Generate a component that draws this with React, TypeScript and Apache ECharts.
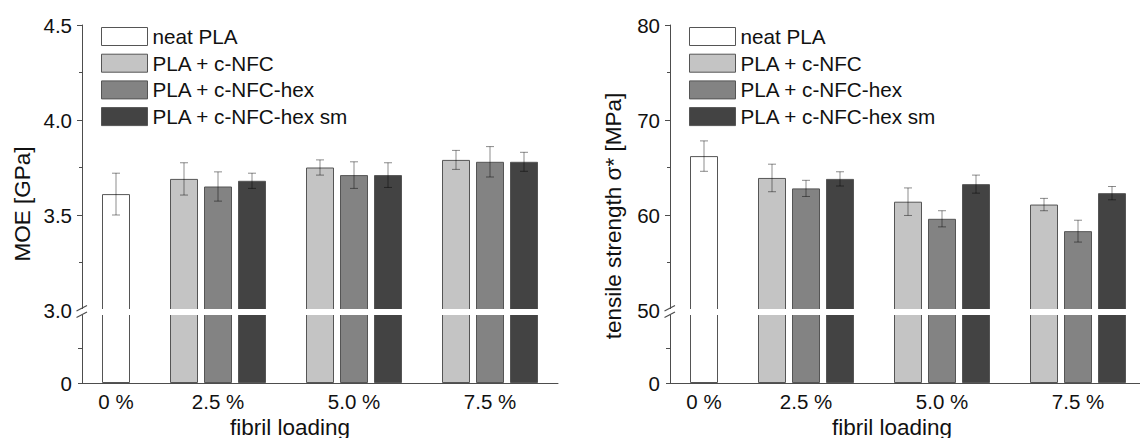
import React, { useEffect, useRef } from 'react';
import * as echarts from 'echarts';

// ---------------- data ----------------
const loadings = ['0 %', '2.5 %', '5.0 %', '7.5 %'];
const seriesNames = ['neat PLA', 'PLA + c-NFC', 'PLA + c-NFC-hex', 'PLA + c-NFC-hex sm'];
const fills = ['#ffffff', '#c4c4c4', '#838383', '#434343'];

// MOE [GPa] (index = fibril loading)
const moeNeat = [3.61, null, null, null];
const moeCNFC = [null, 3.69, 3.75, 3.79];
const moeHex = [null, 3.65, 3.71, 3.78];
const moeHexSm = [null, 3.68, 3.71, 3.78];
const moeNeatErr = [0.11, null, null, null];
const moeCNFCErr = [null, 0.085, 0.04, 0.05];
const moeHexErr = [null, 0.077, 0.07, 0.08];
const moeHexSmErr = [null, 0.04, 0.065, 0.05];

// tensile strength [MPa]
const tsNeat = [66.2, null, null, null];
const tsCNFC = [null, 63.9, 61.4, 61.1];
const tsHex = [null, 62.8, 59.6, 58.3];
const tsHexSm = [null, 63.8, 63.25, 62.3];
const tsNeatErr = [1.6, null, null, null];
const tsCNFCErr = [null, 1.45, 1.45, 0.65];
const tsHexErr = [null, 0.85, 0.85, 1.15];
const tsHexSmErr = [null, 0.75, 0.95, 0.7];

// axis ranges (upper part above the break, lower part below it)
const moeUpper = { min: 3.0, max: 4.5, interval: 0.5, ticks: [3.5, 4.0, 4.5] };
const moeLower = { min: 0, max: 3.0, ticks: [0, 1.5], labels: [0] };
const tsUpper = { min: 50, max: 80, interval: 10, ticks: [60, 70, 80] };
const tsLower = { min: 0, max: 50, ticks: [0, 25], labels: [0] };

// ---------------- layout helpers ----------------
const FONT = 'Liberation Sans, Arial, Helvetica, sans-serif';
const TEXT = '#111111';
const AXIS = '#4d4d4d';
const ERR = 'rgba(0,0,0,0.45)';

// slot positions on the x value axis (0..14)
const slotX = (i: number, s: number) => (i === 0 ? 1 : 4 * i + s - 2);
const labelX = (i: number) => (i === 0 ? 1 : 4 * i);

const panels = [
  {
    left: 82,
    values: [moeNeat, moeCNFC, moeHex, moeHexSm],
    errs: [moeNeatErr, moeCNFCErr, moeHexErr, moeHexSmErr],
    upper: moeUpper,
    lower: moeLower,
    fmt: (v: number) => v.toFixed(1),
    yName: 'MOE [GPa]',
    yNameX: 22,
    yNameY: 204,
    xNameX: 290,
    legendLeft: 101,
  },
  {
    left: 670,
    values: [tsNeat, tsCNFC, tsHex, tsHexSm],
    errs: [tsNeatErr, tsCNFCErr, tsHexErr, tsHexSmErr],
    upper: tsUpper,
    lower: tsLower,
    fmt: (v: number) => String(v),
    yName: 'tensile strength σ* [MPa]',
    yNameX: 613,
    yNameY: 216,
    xNameX: 892,
    legendLeft: 689,
  },
];

const UP_TOP = 25;
const UP_BOTTOM = 310;
const LO_TOP = 314;
const LO_BOTTOM = 383;
const PLOT_W = 476;

function buildOption() {
  const grid: any[] = [];
  const xAxis: any[] = [];
  const yAxis: any[] = [];
  const series: any[] = [];
  const legend: any[] = [];
  const graphic: any[] = [];

  const labelMap: Record<number, string> = {};
  loadings.forEach((l, i) => (labelMap[labelX(i)] = l));

  panels.forEach((p, pi) => {
    const gU = pi * 2;
    const gL = pi * 2 + 1;
    grid.push({ left: p.left, top: UP_TOP, width: PLOT_W, height: UP_BOTTOM - UP_TOP, outerBoundsMode: 'none' });
    grid.push({ left: p.left, top: LO_TOP, width: PLOT_W, height: LO_BOTTOM - LO_TOP, outerBoundsMode: 'none' });

    xAxis.push({ type: 'value', gridIndex: gU, min: 0, max: 14, show: false, splitLine: { show: false } });
    xAxis.push({
      type: 'value',
      gridIndex: gL,
      min: 0,
      max: 14,
      interval: 1,
      axisLine: { show: true, onZero: false, lineStyle: { color: AXIS, width: 1 } },
      axisTick: { show: false },
      splitLine: { show: false },
      axisLabel: {
        customValues: loadings.map((_, i) => labelX(i)),
        formatter: (v: number) => labelMap[v] ?? '',
        fontSize: 20.5,
        fontFamily: FONT,
        color: TEXT,
        margin: 8,
        showMinLabel: true,
        showMaxLabel: true,
      },
    });

    yAxis.push({
      type: 'value',
      gridIndex: gU,
      min: p.upper.min,
      max: p.upper.max,
      interval: p.upper.interval,
      axisLine: { show: true, onZero: false, lineStyle: { color: AXIS, width: 1 } },
      axisTick: { show: true, length: 5, customValues: p.upper.ticks, lineStyle: { color: AXIS } },
      minorTick: { show: true, splitNumber: 2, length: 3, lineStyle: { color: AXIS } },
      splitLine: { show: false },
      axisLabel: { formatter: p.fmt, fontSize: 20.5, fontFamily: FONT, color: TEXT, margin: 10 },
    });
    yAxis.push({
      type: 'value',
      gridIndex: gL,
      min: p.lower.min,
      max: p.lower.max,
      interval: p.lower.ticks[1],
      axisLine: { show: true, onZero: false, lineStyle: { color: AXIS, width: 1 } },
      axisTick: { show: true, length: 4, customValues: p.lower.ticks, lineStyle: { color: AXIS } },
      splitLine: { show: false },
      axisLabel: {
        customValues: p.lower.labels,
        formatter: (v: number) => (v === 0 ? '0' : ''),
        fontSize: 20.5,
        fontFamily: FONT,
        color: TEXT,
        margin: 10,
      },
    });

    // bars in both parts of the broken axis
    [gU, gL].forEach((g) => {
      p.values.forEach((vals, s) => {
        const data = vals
          .map((v, i) => (v == null ? null : [slotX(i, s), v]))
          .filter((d) => d !== null);
        series.push({
          type: 'bar',
          name: seriesNames[s],
          xAxisIndex: g,
          yAxisIndex: g,
          barWidth: 28,
          barGap: '-100%',
          clip: true,
          itemStyle: { color: fills[s], borderColor: '#555555', borderWidth: 1 },
          data,
        });
      });
    });

    // error bars (upper part)
    const errData: number[][] = [];
    p.values.forEach((vals, s) => {
      vals.forEach((v, i) => {
        const e = p.errs[s][i];
        if (v != null && e != null) errData.push([slotX(i, s), v - e, v + e]);
      });
    });
    series.push({
      type: 'custom',
      xAxisIndex: gU,
      yAxisIndex: gU,
      z: 5,
      encode: { x: 0, y: [1, 2] },
      data: errData,
      renderItem: (_params: any, api: any) => {
        const x = api.value(0);
        const top = api.coord([x, api.value(2)]);
        const bot = api.coord([x, api.value(1)]);
        const w = 4;
        const style = { stroke: ERR, lineWidth: 1 };
        return {
          type: 'group',
          children: [
            { type: 'line', shape: { x1: top[0], y1: top[1], x2: bot[0], y2: bot[1] }, style },
            { type: 'line', shape: { x1: top[0] - w, y1: top[1], x2: top[0] + w, y2: top[1] }, style },
            { type: 'line', shape: { x1: bot[0] - w, y1: bot[1], x2: bot[0] + w, y2: bot[1] }, style },
          ],
        };
      },
    });

    legend.push({
      left: p.legendLeft,
      top: 26,
      padding: 0,
      orient: 'vertical',
      icon: 'rect',
      itemWidth: 46,
      itemHeight: 18,
      itemGap: 5.7,
      selectedMode: false,
      data: seriesNames,
      itemStyle: { borderColor: '#555555', borderWidth: 1 },
      textStyle: { fontSize: 20.7, fontFamily: FONT, color: TEXT, lineHeight: 20 },
    });

    // break gap + break marks
    const ax = p.left;
    graphic.push({
      type: 'rect',
      z: 100,
      shape: { x: ax - 8, y: UP_BOTTOM - 1, width: PLOT_W + 10, height: LO_TOP - UP_BOTTOM + 2 },
      style: { fill: '#ffffff' },
    });
    graphic.push({
      type: 'line',
      z: 101,
      shape: { x1: ax - 5.5, y1: 311, x2: ax + 5, y2: 305.5 },
      style: { stroke: AXIS, lineWidth: 1.2 },
    });
    graphic.push({
      type: 'line',
      z: 101,
      shape: { x1: ax - 5.5, y1: 317.5, x2: ax + 5, y2: 312 },
      style: { stroke: AXIS, lineWidth: 1.2 },
    });
    // axis names
    graphic.push({
      type: 'text',
      z: 101,
      x: p.yNameX,
      y: p.yNameY,
      rotation: Math.PI / 2,
      style: {
        text: p.yName,
        fontSize: 22.5,
        fontFamily: FONT,
        fill: TEXT,
        align: 'center',
        verticalAlign: 'middle',
        textAlign: 'center',
        textVerticalAlign: 'middle',
      },
    });
    graphic.push({
      type: 'text',
      z: 101,
      x: p.xNameX,
      y: 427,
      style: {
        text: 'fibril loading',
        fontSize: 22.5,
        fontFamily: FONT,
        fill: TEXT,
        align: 'center',
        verticalAlign: 'middle',
        textAlign: 'center',
        textVerticalAlign: 'middle',
      },
    });
  });

  return {
    animation: false,
    backgroundColor: '#ffffff',
    textStyle: { fontFamily: FONT },
    grid,
    xAxis,
    yAxis,
    legend,
    series,
    graphic: { elements: graphic },
  };
}

export default function App() {
  const ref = useRef<HTMLDivElement>(null);
  useEffect(() => {
    document.body.style.margin = '0';
    if (!ref.current) return;
    const chart = echarts.init(ref.current, undefined, { renderer: 'svg' });
    chart.setOption(buildOption() as any);
    return () => chart.dispose();
  }, []);
  return <div ref={ref} style={{ width: 1140, height: 438 }} />;
}
